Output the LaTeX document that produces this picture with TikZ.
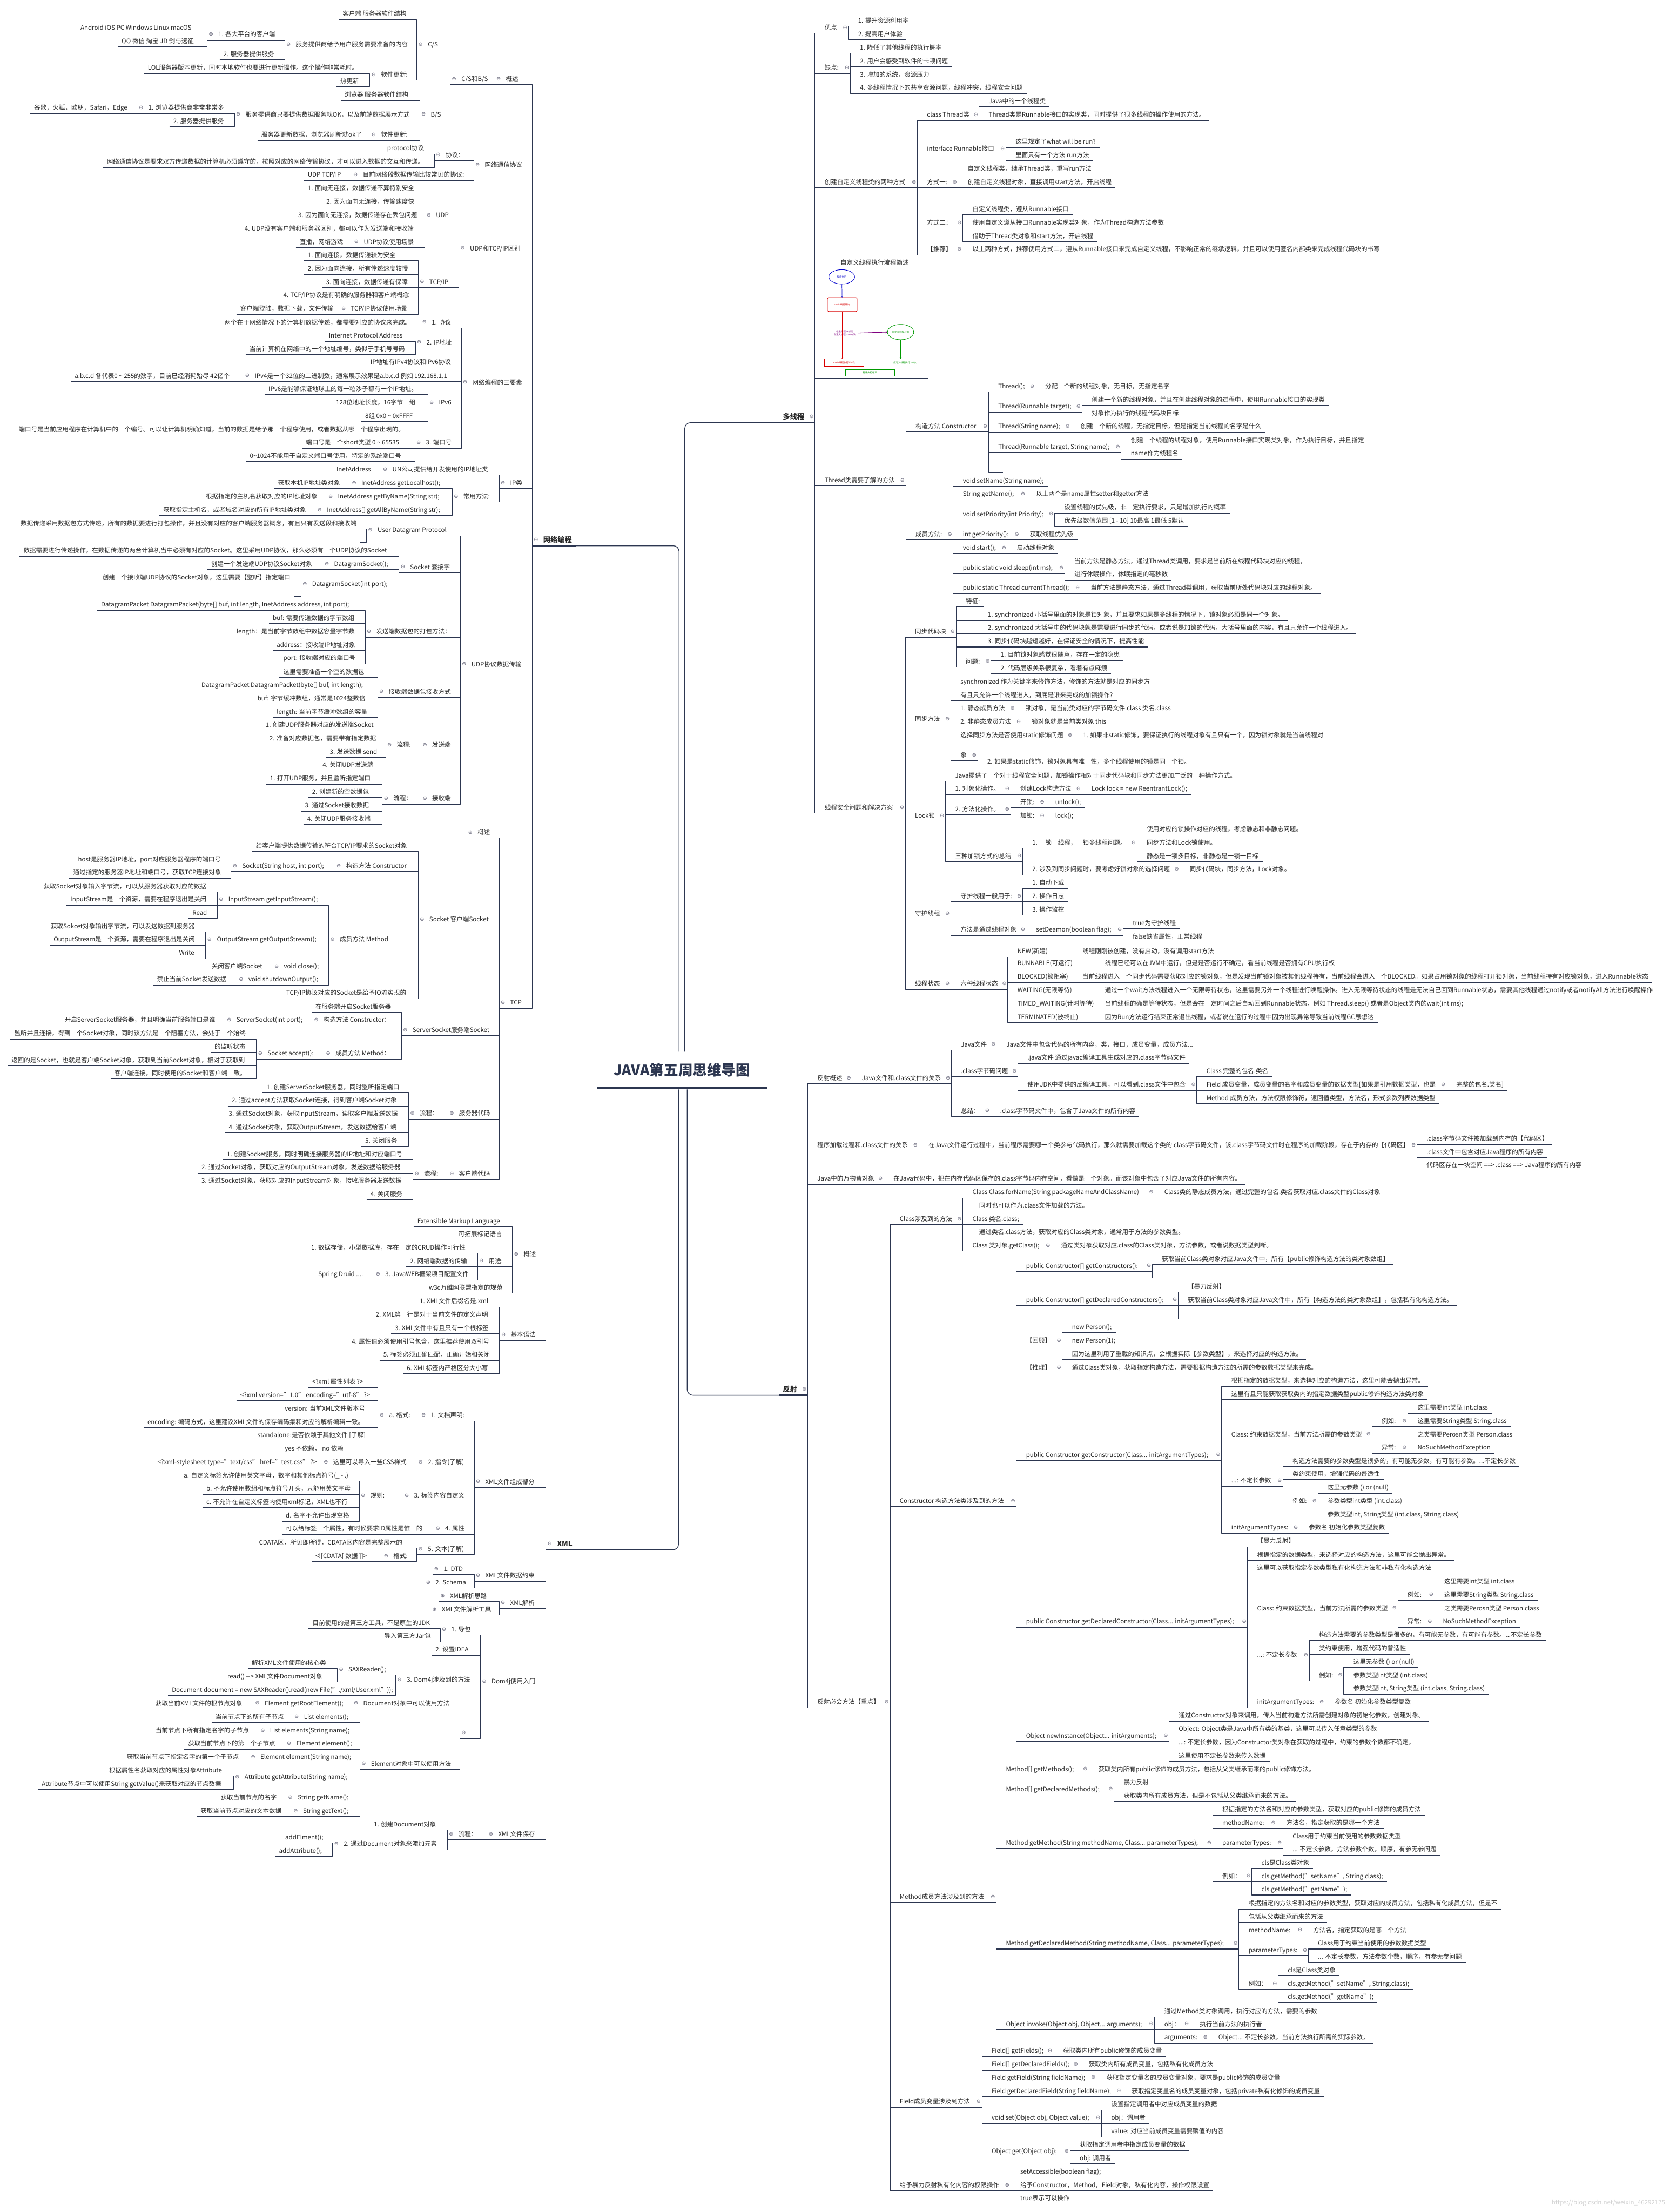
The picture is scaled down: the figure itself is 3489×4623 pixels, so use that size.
\documentclass[tikz,border=0pt]{standalone}
\usepackage{fontspec}
\usetikzlibrary{shapes.geometric}
\setmainfont{Noto Sans CJK SC}
\newfontfamily\dv{DejaVu Sans}
\definecolor{linec}{RGB}{44,54,80}
\definecolor{txtc}{RGB}{40,40,40}
\definecolor{icoc}{RGB}{95,95,115}
\newcommand\icm{{\dv\char"2296}}
\newcommand\icp{{\dv\char"2295}}
\tikzset{
  tx/.style={anchor=south west, font=\fontsize{13}{15}\selectfont, text=txtc, inner xsep=8pt, inner ysep=4pt, text height=10pt, text depth=3pt},
  ico/.style={font={\dv\fontsize{11}{11}\selectfont}, text=icoc, inner sep=0pt},
  ln/.style={draw=linec, line width=1.2pt, line join=round},
  mainf/.style={tx, font=\fontsize{15}{17}\selectfont\bfseries},
  mainln/.style={draw=linec, line width=3pt},
  rootln/.style={draw=linec, line width=1.5pt, rounded corners=12pt},
  fc/.style={font=\fontsize{5}{6}\selectfont, inner sep=0.5pt}
}
% left leaf: name parent xl y text
\newcommand\LL[5]{%
  \coordinate (#1-b) at (#3,#4);
  \node[tx] (#1) at (#1-b) {#5};
  \draw[ln] (#1-b) -| (#2-b);}
% left parent
\newcommand\LP[5]{%
  \coordinate (#1-b) at (#3,#4);
  \node[ico] (#1-i) at ([xshift=8pt,yshift=12pt]#1-b) {\icm};
  \node[tx,xshift=15pt] (#1) at (#1-b) {#5};
  \draw[ln] (#1-b) -| (#2-b);}
% left collapsed
\newcommand\LG[5]{%
  \coordinate (#1-b) at (#3,#4);
  \node[ico] (#1-i) at ([xshift=8pt,yshift=12pt]#1-b) {\icp};
  \node[tx,xshift=15pt] (#1) at (#1-b) {#5};
  \draw[ln] (#1-b) -| (#2-b);}
% left empty stub
\newcommand\LE[4]{%
  \coordinate (#1-b) at (#3,#4);
  \draw[ln] (#1-b) -| (#2-b);}
% right leaf: name parent y text
\newcommand\RL[4]{%
  \node[tx,xshift=12pt] (#1) at (#2-b |- 0,#3) {#4};
  \coordinate (#1-b) at (#1.south east);
  \draw[ln] (#2-b) |- (#1-b);}
% right parent: name parent y xr text
\newcommand\RP[5]{%
  \coordinate (#1-b) at (#4,#3);
  \node[tx,xshift=12pt] (#1) at (#2-b |- 0,#3) {#5};
  \node[ico] (#1-i) at ([xshift=-7pt,yshift=12pt]#1-b) {\icm};
  \draw[ln] (#2-b) |- (#1-b);}
% right empty stub
\newcommand\RE[4]{%
  \path (#2-b |- 0,#3) ++(#4,0) coordinate (#1-b);
  \draw[ln] (#2-b) |- (#1-b);}
\begin{document}
\begin{tikzpicture}[x=1pt,y=-1pt]
\fill[white] (0,0) rectangle (3489,4623);
\useasboundingbox (0,0) rectangle (3489,4623);

% ===== centre =====
\node[font=\fontsize{30}{34}\selectfont\bfseries, text=linec, inner sep=4pt] (root) at (1425,2236) {JAVA第五周思维导图};
\draw[draw=linec, line width=4pt] (1248,2274) -- (1603,2274);
\coordinate (ru1) at (1419,2198);
\coordinate (ru2) at (1431,2198);
\coordinate (rd1) at (1418,2277);
\coordinate (rd2) at (1436,2277);

% ===== 网络编程 =====
\coordinate (net-b) at (1112,1140.6);
\node[ico] at ([xshift=8pt,yshift=13pt]net-b) {\icm};
\node[mainf,xshift=15pt] (net) at (net-b) {网络编程};
\draw[mainln] (net-b) -- (net.south east);
\draw[rootln] (net.south east) -| (ru1);

\LP{gs}{net}{1034}{177}{概述}
\LP{csbs}{gs}{941}{177}{C/S和B/S}
\LP{cs}{csbs}{871}{104.5}{C/S}
\LL{cs1}{cs}{708}{41}{客户端 服务器软件结构}
\LP{cs2}{cs}{595}{104.5}{服务提供商给予用户服务需要准备的内容}
\LP{cs21}{cs2}{433}{83.6}{1. 各大平台的客户端}
\LL{cs211}{cs21}{160}{69.7}{Android iOS PC Windows Linux macOS}
\LL{cs212}{cs21}{246}{97.5}{QQ 微信 淘宝 JD 剑与远征}
\LL{cs22}{cs2}{459}{125}{2. 服务器提供服务}
\LP{cs3}{cs}{773}{168}{软件更新:}
\LL{cs31}{cs3}{301}{153.7}{LOL服务器版本更新，同时本地软件也要进行更新操作。这个操作非常耗时。}
\LL{cs32}{cs3}{703}{181.6}{热更新}
\LP{bs}{csbs}{877}{251}{B/S}
\LL{bs1}{bs}{712}{210}{浏览器 服务器软件结构}
\LP{bs2}{bs}{490}{251}{服务提供商只要提供数据服务就OK，以及前端数据展示方式}
\LP{bs21}{bs2}{287}{237}{1. 浏览器提供商非常非常多}
\LL{bs211}{bs21}{63}{237}{谷歌，火狐，欧朋，Safari，Edge}
\LL{bs22}{bs2}{354}{265}{2. 服务器提供服务}
\LP{bs3}{bs}{773}{293.5}{软件更新:}
\LL{bs31}{bs3}{538}{293.5}{服务器更新数据，浏览器刷新就ok了}

\LP{ncp}{net}{990}{356.7}{网络通信协议}
\LP{xy}{ncp}{908}{335.8}{协议：}
\LL{xy1}{xy}{801}{322}{protocol协议}
\LL{xy2}{xy}{215}{350}{网络通信协议是要求双方传递数据的计算机必须遵守的，按照对应的网络传输协议，才可以进入数据的交互和传递。}
\LP{mq}{ncp}{735}{377}{目前网络段数据传输比较常见的协议:}
\LL{mq1}{mq}{635}{377}{UDP TCP/IP}

\LP{qb}{net}{959}{531}{UDP和TCP/IP区别}
\LP{udp}{qb}{888}{461.7}{UDP}
\LL{udp1}{udp}{635}{405.5}{1. 面向无连接，数据传递不算特别安全}
\LL{udp2}{udp}{674}{433}{2. 因为面向无连接，传输速度快}
\LL{udp3}{udp}{615}{461.7}{3. 因为面向无连接，数据传递存在丢包问题}
\LL{udp4}{udp}{503}{489.5}{4. UDP没有客户端和服务器区别，都可以作为发送端和接收端}
\LP{udp5}{udp}{737}{517.4}{UDP协议使用场景}
\LL{udp51}{udp5}{618}{517.4}{直播，网络游戏}
\LP{tcp}{qb}{874}{601}{TCP/IP}
\LL{tcp1}{tcp}{635}{545}{1. 面向连接，数据传递较为安全}
\LL{tcp2}{tcp}{635}{573.6}{2. 因为面向连接，所有传递速度较慢}
\LL{tcp3}{tcp}{673}{601}{3. 面向连接，数据传递有保障}
\LL{tcp4}{tcp}{584}{629}{4. TCP/IP协议是有明确的服务器和客户端概念}
\LP{tcp5}{tcp}{710}{657}{TCP/IP协议使用场景}
\LL{tcp51}{tcp5}{494}{657}{客户端登陆，数据下载，文件传输}

\LP{sy}{net}{964}{810.8}{网络编程的三要素}
\LP{sy1}{sy}{879}{685.6}{1. 协议}
\LL{sy11}{sy1}{461}{685.6}{两个在于网络情况下的计算机数据传递，都需要对应的协议来完成。}
\LP{sy2}{sy}{868}{727.3}{2. IP地址}
\LL{sy21}{sy2}{679}{713.4}{Internet Protocol Address}
\LL{sy22}{sy2}{513}{741.3}{当前计算机在网络中的一个地址编号，类似于手机号号码}
\LL{sy3}{sy}{766}{769}{IP地址有IPv4协议和IPv6协议}
\LP{sy4}{sy}{509}{797.4}{IPv4是一个32位的二进制数，通常展示效果是a.b.c.d 例如 192.168.1.1}
\LL{sy41}{sy4}{148}{797.4}{a.b.c.d 各代表0 \textasciitilde{} 255的数字，目前已经消耗殆尽 42亿个}
\LP{sy5}{sy}{894}{853}{IPv6}
\LL{sy51}{sy5}{553}{825}{IPv6是能够保证地球上的每一粒沙子都有一个IP地址。}
\LL{sy52}{sy5}{694}{853}{128位地址长度，16字节一组}
\LL{sy53}{sy5}{755}{881}{8组 0x0 \textasciitilde{} 0xFFFF}
\LP{sy6}{sy}{867}{937}{3. 端口号}
\LL{sy61}{sy6}{31}{909}{端口号是当前应用程序在计算机中的一个编号。可以让计算机明确知道，当前的数据是给予那一个程序使用，或者数据从哪一个程序出现的。}
\LL{sy62}{sy6}{631}{937}{端口号是一个short类型 0 \textasciitilde{} 65535}
\LL{sy63}{sy6}{514}{965}{0\textasciitilde{}1024不能用于自定义端口号使用，特定的系统端口号}

\LP{ipc}{net}{1043}{1021}{IP类}
\LP{ipc1}{ipc}{797}{993}{UN公司提供给开发使用的IP地址类}
\LL{ipc11}{ipc1}{695}{993}{InetAddress}
\LP{ipc2}{ipc}{945}{1049.6}{常用方法:}
\LP{ipc21}{ipc2}{732}{1021}{InetAddress getLocalhost();}
\LL{ipc211}{ipc21}{573}{1021}{获取本机IP地址类对象}
\LP{ipc22}{ipc2}{683}{1049.6}{InetAddress getByName(String str);}
\LL{ipc221}{ipc22}{422}{1049.6}{根据指定的主机名获取对应的IP地址对象}
\LP{ipc23}{ipc2}{660}{1077.5}{InetAddress[] getAllByName(String str);}
\LL{ipc231}{ipc23}{333}{1077.5}{获取指定主机名，或者域名对应的所有IP地址类对象}

\LP{udpt}{net}{962}{1400}{UDP协议数据传输}
\LP{ud1}{udpt}{766}{1119.7}{User Datagram Protocol}
\LL{ud11}{ud1}{35}{1105.8}{数据传递采用数据包方式传递，所有的数据要进行打包操作，并且没有对应的客户端服务器概念，有且只有发送段和接收端}
\LE{ud12}{ud1}{752}{1133.5}
\LP{ud2}{udpt}{834}{1196.9}{Socket 套接字}
\LL{ud21}{ud2}{41}{1162.5}{数据需要进行传递操作，在数据传递的两台计算机当中必须有对应的Socket。这里采用UDP协议，那么必须有一个UDP协议的Socket}
\LP{ud22}{ud2}{675}{1190.4}{DatagramSocket();}
\LL{ud221}{ud22}{433}{1190.4}{创建一个发送端UDP协议Socket对象}
\LP{ud23}{ud2}{629}{1232.7}{DatagramSocket(int port);}
\LL{ud231}{ud23}{206}{1218.7}{创建一个接收端UDP协议的Socket对象，这里需要【监听】指定端口}
\LE{ud232}{ud23}{614}{1246.6}
\LP{ud3}{udpt}{763}{1332}{发送端数据包的打包方法：}
\LL{ud31}{ud3}{203}{1275.5}{DatagramPacket DatagramPacket(byte[] buf, int length, InetAddress address, int port);}
\LL{ud32}{ud3}{562}{1303.3}{buf: 需要传递数据的字节数组}
\LL{ud33}{ud3}{486}{1331.7}{length：是当前字节数组中数据容量字节数}
\LL{ud34}{ud3}{570}{1359.5}{address：接收端IP地址对象}
\LL{ud35}{ud3}{584}{1387.4}{port: 接收端对应的端口号}
\LP{ud4}{udpt}{789}{1457.6}{接收端数据包接收方式}
\LL{ud41}{ud4}{584}{1415.8}{这里需要准备一个空的数据包}
\LL{ud42}{ud4}{413}{1443.6}{DatagramPacket DatagramPacket(byte[] buf, int length);}
\LL{ud43}{ud4}{530}{1471.5}{buf: 字节缓冲数组，通常是1024整数倍}
\LL{ud44}{ud4}{570}{1499.3}{length: 当前字节缓冲数组的容量}
\LP{ud5}{udpt}{880}{1568.9}{发送端}
\LP{ud51}{ud5}{806}{1568.9}{流程:}
\LL{ud511}{ud51}{547}{1527.2}{1. 创建UDP服务器对应的发送端Socket}
\LL{ud512}{ud51}{555}{1555}{2. 准备对应数据包，需要带有指定数据}
\LL{ud513}{ud51}{681}{1583.3}{3. 发送数据 send}
\LL{ud514}{ud51}{666}{1611}{4. 关闭UDP发送端}
\LP{ud6}{udpt}{880}{1680.8}{接收端}
\LP{ud61}{ud6}{799}{1680.8}{流程：}
\LL{ud611}{ud61}{556}{1639}{1. 打开UDP服务，并且监听指定端口}
\LL{ud612}{ud61}{644}{1666.9}{2. 创建新的空数据包}
\LL{ud613}{ud61}{629}{1695.2}{3. 通过Socket接收数据}
\LL{ud614}{ud61}{634}{1723}{4. 关闭UDP服务接收端}

\LP{tcpn}{net}{1043}{2107.2}{TCP}
\LG{tg}{tcpn}{975}{1751.4}{概述}
\LP{sk}{tcpn}{874}{1933}{Socket 客户端Socket}
\LL{sk1}{sk}{527}{1779.3}{给客户端提供数据传输的符合TCP/IP要求的Socket对象}
\LP{sk2}{sk}{700}{1821.6}{构造方法 Constructor}
\LP{sk21}{sk2}{483}{1821.6}{Socket(String host, int port);}
\LL{sk211}{sk21}{155}{1807.7}{host是服务器IP地址，port对应服务器程序的端口号}
\LL{sk212}{sk21}{145}{1835.5}{通过指定的服务器IP地址和端口号，获取TCP连接对象}
\LP{sk3}{sk}{687}{1974.8}{成员方法 Method}
\LP{sk31}{sk3}{454}{1891.7}{InputStream getInputStream();}
\LL{sk311}{sk31}{83}{1863.9}{获取Socket对象输入字节流，可以从服务器获取对应的数据}
\LL{sk312}{sk31}{139}{1891.7}{InputStream是一个资源，需要在程序退出是关闭}
\LL{sk313}{sk31}{394}{1919.6}{Read}
\LP{sk32}{sk3}{430}{1974.8}{OutputStream getOutputStream();}
\LL{sk321}{sk32}{98}{1948}{获取Sokcet对象输出字节流，可以发送数据到服务器}
\LL{sk322}{sk32}{104}{1975.3}{OutputStream是一个资源，需要在程序退出是关闭}
\LL{sk323}{sk32}{366}{2003.7}{Write}
\LP{sk33}{sk3}{570}{2031.5}{void close();}
\LL{sk331}{sk33}{434}{2031.5}{关闭客户端Socket}
\LP{sk34}{sk3}{496}{2058.9}{void shutdownOutput();}
\LL{sk341}{sk34}{320}{2058.9}{禁止当前Socket发送数据}
\LL{sk4}{sk}{590}{2087.2}{TCP/IP协议对应的Socket是给予IO流实现的}
\LP{ss}{tcpn}{839}{2164.4}{ServerSocket服务端Socket}
\LL{ss1}{ss}{651}{2115.6}{在服务端开启Socket服务器}
\LP{ss2}{ss}{653}{2143.5}{构造方法 Constructor：}
\LP{ss21}{ss2}{471}{2143.5}{ServerSocket(int port);}
\LL{ss211}{ss21}{127}{2143.5}{开启ServerSocket服务器，并且明确当前服务端口是谁}
\LP{ss3}{ss}{678}{2213.6}{成员方法 Method：}
\LP{ss31}{ss3}{536}{2213.6}{Socket accept();}
\LL{ss311}{ss31}{22}{2171.8}{监听并且连接，得到一个Socket对象，同时该方法是一个阻塞方法，会处于一个始终}
\LL{ss312}{ss31}{440}{2199.7}{的监听状态}
\LL{ss313}{ss31}{16}{2227.5}{返回的是Socket，也就是客户端Socket对象，获取到当前Socket对象，相对于获取到}
\LL{ss314}{ss31}{231}{2254.9}{客户端连接，同时使用的Socket和客户端一致。}
\LP{sv}{tcpn}{936}{2338.9}{服务器代码}
\LP{sv1}{sv}{854}{2338.9}{流程：}
\LL{sv11}{sv1}{549}{2283.8}{1. 创建ServerSocket服务器，同时监听指定端口}
\LL{sv12}{sv1}{476}{2311.6}{2. 通过accept方法获取Socket连接，得到客户端Socket对象}
\LL{sv13}{sv1}{470}{2339.8}{3. 通过Socket对象，获取InputStream，读取客户端发送数据}
\LL{sv14}{sv1}{470}{2367.7}{4. 通过Socket对象，获取OutputStream，发送数据给客户端}
\LL{sv15}{sv1}{755}{2395.6}{5. 关闭服务}
\LP{cl}{tcpn}{936}{2465.2}{客户端代码}
\LP{cl1}{cl}{863}{2465.2}{流程:}
\LL{cl11}{cl1}{466}{2423.9}{1. 创建Socket服务，同时明确连接服务器的IP地址和对应端口号}
\LL{cl12}{cl1}{413}{2451.8}{2. 通过Socket对象，获取对应的OutputStream对象，发送数据给服务器}
\LL{cl13}{cl1}{413}{2479.6}{3. 通过Socket对象，获取对应的InputStream对象，接收服务器发送数据}
\LL{cl14}{cl1}{766}{2507.5}{4. 关闭服务}

% ===== XML =====
\coordinate (xml-b) at (1141,3239);
\node[ico] at ([xshift=8pt,yshift=13pt]xml-b) {\icm};
\node[mainf,xshift=15pt] (xml) at (xml-b) {XML};
\draw[mainln] (xml-b) -- (xml.south east);
\draw[rootln] (xml.south east) -| (rd1);

\LP{xg}{xml}{1071}{2633.4}{概述}
\LL{xg1}{xg}{864}{2563.7}{Extensible Markup Language}
\LL{xg2}{xg}{950}{2591.6}{可拓展标记语言}
\LP{xg3}{xg}{998}{2647.3}{用途:}
\LL{xg31}{xg3}{642}{2619.4}{1. 数据存储，小型数据库，存在一定的CRUD操作可行性}
\LL{xg32}{xg3}{849}{2647.3}{2. 网络端数据的传输}
\LP{xg33}{xg3}{782}{2675.2}{3. JavaWEB框架项目配置文件}
\LL{xg331}{xg33}{657}{2675.2}{Spring Druid ....}
\LL{xg4}{xg}{888}{2703}{w3c万维网联盟指定的规范}
\LP{xb}{xml}{1044}{2801.5}{基本语法}
\LL{xb1}{xb}{869}{2731.4}{1. XML文件后缀名是.xml}
\LL{xb2}{xb}{777}{2759.2}{2. XML第一行是对于当前文件的定义声明}
\LL{xb3}{xb}{817}{2787.6}{3. XML文件中有且只有一个根标签}
\LL{xb4}{xb}{727}{2815.5}{4. 属性值必须使用引号包含，这里推荐使用双引号}
\LL{xb5}{xb}{793}{2843.3}{5. 标签必须正确匹配，正确开始和关闭}
\LL{xb6}{xb}{842}{2871.2}{6. XML标签内严格区分大小写}
\LP{xz}{xml}{991}{3108.9}{XML文件组成部分}
\LP{xz1}{xz}{877}{2969.7}{1. 文档声明:}
\LP{xz11}{xz1}{790}{2969.7}{a. 格式:}
\LL{xz111}{xz11}{644}{2899.5}{<?xml 属性列表 ?>}
\LL{xz112}{xz11}{494}{2927.4}{<?xml version="1.0" encoding="utf-8" ?>}
\LL{xz113}{xz11}{587}{2955.3}{version: 当前XML文件版本号}
\LL{xz114}{xz11}{300}{2983.6}{encoding: 编码方式，这里建议XML文件的保存编码集和对应的解析编辑一致。}
\LL{xz115}{xz11}{530}{3011.5}{standalone:是否依赖于其他文件 [了解]}
\LL{xz116}{xz11}{587}{3039.3}{yes 不依赖， no 依赖}
\LP{xz2}{xz}{871}{3067.7}{2. 指令(了解)}
\LP{xz21}{xz2}{673}{3067.7}{这里可以导入一些CSS样式}
\LL{xz211}{xz21}{321}{3067.7}{<?xml-stylesheet type="text/css" href="test.css" ?>}
\LP{xz3}{xz}{842}{3137.2}{3. 标签内容自定义}
\LP{xz31}{xz3}{751}{3137.2}{规则:}
\LL{xz311}{xz31}{376}{3095.4}{a. 自定义标签允许使用英文字母，数字和其他标点符号(\_ - .)}
\LL{xz312}{xz31}{423}{3123.3}{b. 不允许使用数组和标点符号开头，只能用英文字母}
\LL{xz313}{xz31}{423}{3151.1}{c. 不允许在自定义标签内使用xml标记，XML也不行}
\LL{xz314}{xz31}{589}{3179.5}{d. 名字不允许出现空格}
\LP{xz4}{xz}{907}{3206.9}{4. 属性}
\LL{xz41}{xz4}{589}{3206.9}{可以给标签一个属性，有时候要求ID属性是惟一的}
\LP{xz5}{xz}{871}{3249.2}{5. 文本(了解)}
\LL{xz51}{xz5}{533}{3235.7}{CDATA区，所见即所得，CDATA区内容是完整展示的}
\LP{xz52}{xz5}{799}{3263.6}{格式:}
\LL{xz521}{xz52}{651}{3263.6}{<![CDATA[ 数据 ]]>}
\LP{xc}{xml}{991}{3304.9}{XML文件数据约束}
\LG{xc1}{xc}{904}{3290.9}{1. DTD}
\LG{xc2}{xc}{887}{3319.3}{2. Schema}
\LP{xp}{xml}{1043}{3361.6}{XML解析}
\LG{xp1}{xp}{917}{3347.2}{XML解析思路}
\LG{xp2}{xp}{900}{3375.5}{XML文件解析工具}
\LP{dj}{xml}{1004}{3525.8}{Dom4j使用入门}
\LP{dj1}{dj}{920}{3417.3}{1. 导包}
\LL{dj11}{dj1}{645}{3403.4}{目前使用的是第三方工具，不是原生的JDK}
\LL{dj12}{dj1}{795}{3431.2}{导入第三方Jar包}
\LL{dj2}{dj}{902}{3459.6}{2. 设置IDEA}
\LP{dj3}{dj}{827}{3522.3}{3. Dom4j涉及到的方法}
\LP{dj31}{dj3}{705}{3500.9}{SAXReader();}
\LL{dj311}{dj31}{518}{3487}{解析XML文件使用的核心类}
\LL{dj312}{dj31}{467}{3515.3}{read() -{}-> XML文件Document对象}
\LL{dj32}{dj3}{351}{3543.7}{Document document = new SAXReader().read(new File("./xml/User.xml"));}
\LP{dj4}{dj}{961}{3633.7}{}
\LP{dj41}{dj4}{736}{3571.5}{Document对象中可以使用方法}
\LP{dj411}{dj41}{530}{3571.5}{Element getRootElement();}
\LL{dj4111}{dj411}{317}{3571.5}{获取当前XML文件的根节点对象}
\LP{dj42}{dj4}{752}{3697.9}{Element对象中可以使用方法}
\LP{e1}{dj42}{612}{3599.9}{List elements();}
\LL{e11}{e1}{442}{3599.9}{当前节点下的所有子节点}
\LP{e2}{dj42}{541}{3628.2}{List elements(String name);}
\LL{e21}{e2}{317}{3628.2}{当前节点下所有指定名字的子节点}
\LP{e3}{dj42}{596}{3656.1}{Element element();}
\LL{e31}{e3}{385}{3656.1}{获取当前节点下的第一个子节点}
\LP{e4}{dj42}{521}{3684}{Element element(String name);}
\LL{e41}{e4}{257}{3684}{获取当前节点下指定名字的第一个子节点}
\LP{e5}{dj42}{488}{3725.8}{Attribute getAttribute(String name);}
\LL{e51}{e5}{220}{3711.8}{根据属性名获取对应的属性对象Attribute}
\LL{e52}{e5}{79}{3740.2}{Attribute节点中可以使用String getValue()来获取对应的节点数据}
\LP{e6}{dj42}{599}{3768.5}{String getName();}
\LL{e61}{e6}{453}{3768.5}{获取当前节点的名字}
\LP{e7}{dj42}{610}{3796.4}{String getText();}
\LL{e71}{e7}{411}{3796.4}{获取当前节点对应的文本数据}
\LP{xs}{xml}{1018}{3845.2}{XML文件保存}
\LP{xs1}{xs}{935}{3845.2}{流程：}
\LL{xs11}{xs1}{773}{3824.3}{1. 创建Document对象}
\LP{xs12}{xs1}{695}{3865.8}{2. 通过Document对象来添加元素}
\LL{xs121}{xs12}{588}{3852}{addElment();}
\LL{xs122}{xs12}{575}{3879.6}{addAttribute();}

% ===== 多线程 =====
\coordinate (mt-b) at (1703,883.4);
\node[ico] at ([xshift=-7pt,yshift=13pt]mt-b) {\icm};
\node[mainf,anchor=south east,xshift=-14pt] (mt) at (mt-b) {多线程};
\draw[mainln] (mt.south west) -- (mt-b);
\draw[rootln] (mt.south west) -| (ru2);

\RP{yd}{mt}{69.7}{1773}{优点}
\RL{yd1}{yd}{55.2}{1. 提升资源利用率}
\RL{yd2}{yd}{83.1}{2. 提高用户体验}
\RP{qd}{mt}{153.7}{1777}{缺点:}
\RL{qd1}{qd}{111.4}{1. 降低了其他线程的执行概率}
\RL{qd2}{qd}{139.3}{2. 用户会感受到软件的卡顿问题}
\RL{qd3}{qd}{167.7}{3. 增加的系统，资源压力}
\RL{qd4}{qd}{195.5}{4. 多线程情况下的共享资源问题，线程冲突，线程安全问题}
\RP{cj}{mt}{392.5}{1917}{创建自定义线程类的两种方式}
\RP{cj1}{cj}{251.7}{2046}{class Thread类}
\RL{cj11}{cj1}{223.4}{Java中的一个线程类}
\RL{cj12}{cj1}{251.7}{Thread类是Runnable接口的实现类，同时提供了很多线程的操作使用的方法。}
\RE{cj13}{cj1}{280.1}{32}
\RP{cj2}{cj}{322.4}{2102}{interface Runnable接口}
\RL{cj21}{cj2}{308.5}{这里规定了what will be run?}
\RL{cj22}{cj2}{336.3}{里面只有一个方法 run方法}
\RP{cj3}{cj}{392.5}{2002}{方式一:}
\RL{cj31}{cj3}{364.2}{自定义线程类，继承Thread类，重写run方法}
\RL{cj32}{cj3}{392.5}{创建自定义线程对象，直接调用start方法，开启线程}
\RE{cj33}{cj3}{420.9}{31}
\RP{cj4}{cj}{477.1}{2012}{方式二：}
\RL{cj41}{cj4}{448.7}{自定义线程类，遵从Runnable接口}
\RL{cj42}{cj4}{477.1}{使用自定义遵从接口Runnable实现类对象，作为Thread构造方法参数}
\RL{cj43}{cj4}{505}{借助于Thread类对象和start方法，开启线程}
\RP{cj5}{cj}{532.8}{2012}{【推荐】}
\RL{cj51}{cj5}{532.8}{以上两种方式，推荐使用方式二，遵从Runnable接口来完成自定义线程，不影响正常的继承逻辑，并且可以使用匿名内部类来完成线程代码块的书写}

% flow sketch
\coordinate (lc-b) at (1940,791);
\draw[ln] (mt-b) |- (lc-b);
\node[tx,anchor=west,inner ysep=0pt] (lc) at (1748,550) {自定义线程执行流程简述};
\node[draw=blue!80!black, text=blue!80!black, line width=1pt, ellipse, minimum width=54pt, minimum height=30pt, fc] (f-a) at (1759,578.6) {程序执行};
\node[draw=red!85!black, text=red!85!black, line width=1pt, rounded corners=2pt, minimum width=62pt, minimum height=29pt, fc] (f-b) at (1760,636.5) {main线程开始};
\node[draw=green!60!black, text=green!60!black, line width=1pt, ellipse, minimum width=55pt, minimum height=32pt, fc] (f-c) at (1882,694) {自定义线程开始};
\node[draw=red!85!black, text=red!85!black, line width=1pt, minimum width=83pt, minimum height=16pt, fc] (f-d) at (1764,758) {main线程执行100次};
\node[draw=green!60!black, text=green!60!black, line width=1pt, minimum width=78pt, minimum height=17pt, fc] (f-e) at (1891,758.5) {自定义线程执行100次};
\node[draw=green!60!black, text=green!60!black, line width=1pt, minimum width=102pt, minimum height=14pt, fc] (f-f) at (1818,779) {程序执行结束};
\node[fc, text=violet, align=center] (f-g) at (1765,696) {在主线程中创建\\自定义线程start方法};
\draw[blue!80!black, line width=0.8pt, ->] (f-a) -- (f-b);
\draw[red!85!black, line width=0.8pt, ->] (f-b) -- (f-b |- f-d.north);
\draw[green!60!black, line width=0.8pt, ->] (f-c) -- (f-c |- f-e.north);
\draw[violet, line width=1.2pt, ->] (f-g.east) ++(4,0) -- (f-c.west);

\RP{th}{mt}{1015.3}{1893}{Thread类需要了解的方法}
\RP{th1}{th}{902.8}{2066}{构造方法 Constructor}
\RP{th11}{th1}{819.3}{2164}{Thread();}
\RL{th111}{th11}{819.3}{分配一个新的线程对象，无目标，无指定名字}
\RP{th12}{th1}{861.5}{2261}{Thread(Runnable target);}
\RL{th121}{th12}{847.6}{创建一个新的线程对象，并且在创建线程对象的过程中，使用Runnable接口的实现类}
\RL{th122}{th12}{875.5}{对象作为执行的线程代码块目标}
\RP{th13}{th1}{903.3}{2238}{Thread(String name);}
\RL{th131}{th13}{903.3}{创建一个新的线程，无指定目标，但是指定当前线程的名字是什么}
\RP{th14}{th1}{945.6}{2343}{Thread(Runnable target, String name);}
\RL{th141}{th14}{931.7}{创建一个线程的线程对象，使用Runnable接口实现类对象，作为执行目标，并且指定}
\RL{th142}{th14}{959.5}{name作为线程名}
\RE{th15}{th1}{987.4}{30}
\RP{th2}{th}{1128.2}{1992}{成员方法:}
\RL{th21}{th2}{1016.3}{void setName(String name);}
\RP{th22}{th2}{1044.1}{2145}{String getName();}
\RL{th221}{th22}{1044.1}{以上两个是name属性setter和getter方法}
\RP{th23}{th2}{1086.4}{2204}{void setPriority(int Priority);}
\RL{th231}{th23}{1072.5}{设置线程的优先级，非一定执行要求，只是增加执行的概率}
\RL{th232}{th23}{1100.3}{优先级数值范围 [1 - 10] 10最高 1最低 5默认}
\RP{th24}{th2}{1128.2}{2132}{int getPriority();}
\RL{th241}{th24}{1128.2}{获取线程优先级}
\RP{th25}{th2}{1156.6}{2105}{void start();}
\RL{th251}{th25}{1156.6}{启动线程对象}
\RP{th26}{th2}{1198.3}{2225}{public static void sleep(int ms);}
\RL{th261}{th26}{1184.4}{当前方法是静态方法，通过Thread类调用，要求是当前所在线程代码块对应的线程，}
\RL{th262}{th26}{1212.3}{进行休眠操作，休眠指定的毫秒数}
\RP{th27}{th2}{1240.1}{2259}{public static Thread currentThread();}
\RL{th271}{th27}{1240.1}{当前方法是静态方法，通过Thread类调用，获取当前所处代码块对应的线程对象。}

\RP{aq}{mt}{1699.7}{1892}{线程安全问题和解决方案}
\RP{aq1}{aq}{1332.2}{1998}{同步代码块}
\RL{aq11}{aq1}{1268.5}{特征:}
\RL{aq12}{aq1}{1296.4}{\hspace*{46pt}1. synchronized 小括号里面的对象是锁对象，并且要求如果是多线程的情况下，锁对象必须是同一个对象。}
\RL{aq13}{aq1}{1324.2}{\hspace*{46pt}2. synchronized 大括号中的代码块就是需要进行同步的代码，或者说是加锁的代码，大括号里面的内容，有且只允许一个线程进入。}
\RL{aq14}{aq1}{1352.1}{\hspace*{46pt}3. 同步代码块越短越好，在保证安全的情况下，提高性能}
\RP{aq15}{aq1}{1394.4}{2071}{问题:}
\RL{aq151}{aq15}{1380.4}{1. 目前锁对象感觉很随意，存在一定的隐患}
\RL{aq152}{aq15}{1408.3}{2. 代码层级关系很复杂，看着有点麻烦}
\RP{aq2}{aq}{1514.8}{1987}{同步方法}
\RL{aq21}{aq2}{1436.7}{synchronized 作为关键字来修饰方法，修饰的方法就是对应的同步方}
\RL{aq22}{aq2}{1464.5}{有且只允许一个线程进入，到底是谁来完成的加锁操作?}
\RP{aq23}{aq2}{1492.4}{2123}{1. 静态成员方法}
\RL{aq231}{aq23}{1492.4}{锁对象，是当前类对应的字节码文件.class 类名.class}
\RP{aq24}{aq2}{1520.2}{2136}{2. 非静态成员方法}
\RL{aq241}{aq24}{1520.2}{锁对象就是当前类对象 this}
\RP{aq25}{aq2}{1548.6}{2243}{选择同步方法是否使用static修饰问题}
\RL{aq251}{aq25}{1548.6}{1. 如果非static修饰，要保证执行的线程对象有且只有一个，因为锁对象就是当前线程对}
\RP{aq26}{aq2}{1589.8}{2043}{象}
\RE{aq261}{aq26}{1576}{20}
\RL{aq262}{aq26}{1603.7}{2. 如果是static修饰，锁对象具有唯一性，多个线程使用的锁是同一个锁。}
\RP{aq3}{aq}{1716.6}{1976}{Lock锁}
\RL{aq31}{aq3}{1632.5}{Java提供了一个对于线程安全问题，加锁操作相对于同步代码块和同步方法更加广泛的一种操作方式。}
\RP{aq32}{aq3}{1660.4}{2112}{1. 对象化操作。}
\RP{aq321}{aq32}{1660.4}{2261}{创建Lock构造方法}
\RL{aq3211}{aq321}{1660.4}{Lock lock = new ReentrantLock();}
\RP{aq33}{aq3}{1702.7}{2112}{2. 方法化操作。}
\RP{aq331}{aq33}{1688.3}{2185}{开锁:}
\RL{aq3311}{aq331}{1688.3}{unlock();}
\RP{aq332}{aq33}{1716.6}{2185}{加锁:}
\RL{aq3321}{aq332}{1716.6}{lock();}
\RP{aq34}{aq3}{1800.7}{2137}{三种加锁方式的总结}
\RP{aq341}{aq34}{1772.8}{2376}{1. 一锁一线程，一锁多线程问题。}
\RL{aq3411}{aq341}{1745}{使用对应的锁操作对应的线程，考虑静态和非静态问题。}
\RL{aq3412}{aq341}{1772.8}{同步方法和Lock锁使用。}
\RL{aq3413}{aq341}{1800.7}{静态是一锁多目标，非静态是一锁一目标}
\RP{aq342}{aq34}{1828.6}{2466}{2. 涉及到同步问题时，要考虑好锁对象的选择问题}
\RL{aq3421}{aq342}{1828.6}{同步代码块，同步方法，Lock对象。}
\RP{aq4}{aq}{1920.6}{1987}{守护线程}
\RP{aq41}{aq4}{1884.8}{2137}{守护线程一般用于:}
\RL{aq411}{aq41}{1856.9}{1. 自动下载}
\RL{aq412}{aq41}{1884.8}{2. 操作日志}
\RL{aq413}{aq41}{1912.6}{3. 操作监控}
\RP{aq42}{aq4}{1954.9}{2145}{方法是通过线程对象}
\RP{aq421}{aq42}{1954.9}{2347}{setDeamon(boolean flag);}
\RL{aq4211}{aq421}{1941}{true为守护线程}
\RL{aq4212}{aq421}{1968.8}{false缺省属性，正常线程}
\RP{aq5}{aq}{2067.8}{1987}{线程状态}
\RP{aq51}{aq5}{2067.8}{2106}{六种线程状态}
\RL{aq511}{aq51}{2000.2}{\makebox[136pt][l]{NEW(新建)}线程刚刚被创建，没有启动，没有调用start方法}
\RL{aq512}{aq51}{2025.1}{\makebox[183pt][l]{RUNNABLE(可运行)}线程已经可以在JVM中运行，但是是否运行不确定，看当前线程是否拥有CPU执行权}
\RL{aq513}{aq51}{2053}{\makebox[136pt][l]{BLOCKED(锁阻塞)}当前线程进入一个同步代码需要获取对应的锁对象，但是发现当前锁对象被其他线程持有，当前线程会进入一个BLOCKED。如果占用锁对象的线程打开锁对象，当前线程持有对应锁对象，进入Runnable状态}
\RL{aq514}{aq51}{2081.3}{\makebox[183pt][l]{WAITING(无限等待)}通过一个wait方法线程进入一个无限等待状态，这里需要另外一个线程进行唤醒操作。进入无限等待状态的线程是无法自己回到Runnable状态，需要其他线程通过notify或者notifyAll方法进行唤醒操作}
\RL{aq515}{aq51}{2109.1}{\makebox[183pt][l]{TIMED\_WAITING(计时等待)}当前线程的确是等待状态，但是会在一定时间之后自动回到Runnable状态，例如 Thread.sleep() 或者是Object类内的wait(int ms);}
\RL{aq516}{aq51}{2137}{\makebox[183pt][l]{TERMINATED(被终止)}因为Run方法运行结束正常退出线程，或者说在运行的过程中因为出现异常导致当前线程GC思想达}

% ===== 反射 =====
\coordinate (fsh-b) at (1688,2916);
\node[ico] at ([xshift=-7pt,yshift=13pt]fsh-b) {\icm};
\node[mainf,anchor=south east,xshift=-14pt] (fsh) at (fsh-b) {反射};
\draw[mainln] (fsh.south west) -- (fsh-b);
\draw[rootln] (fsh.south west) -| (rd2);

\RP{f1}{fsh}{2264.9}{1781}{反射概述}
\RP{f11}{f1}{2264.9}{1988}{Java文件和.class文件的关系}
\RP{f111}{f11}{2194.7}{2083}{Java文件}
\RL{f1111}{f111}{2194.7}{Java文件中包含代码的所有内容，类，接口，成员变量，成员方法...}
\RP{f112}{f11}{2250.4}{2127}{.class字节码问题}
\RL{f1121}{f112}{2222.6}{.java文件 通过javac编译工具生成对应的.class字节码文件}
\RP{f1122}{f112}{2278.8}{2501}{使用JDK中提供的反编译工具，可以看到.class文件中包含}
\RL{f11221}{f1122}{2250.4}{Class 完整的包名.类名}
\RP{f11222}{f1122}{2278.8}{3023}{Field 成员变量，成员变量的名字和成员变量的数据类型[如果是引用数据类型，也是}
\RL{f112221}{f11222}{2278.8}{完整的包名.类名]}
\RL{f11223}{f1122}{2306.7}{Method 成员方法，方法权限修饰符，返回值类型，方法名，形式参数列表数据类型}
\RP{f113}{f11}{2333.4}{2070}{总结：}
\RL{f1131}{f113}{2333.4}{.class字节码文件中，包含了Java文件的所有内容}
\RP{f2}{fsh}{2405.5}{1920}{程序加载过程和.class文件的关系}
\RP{f21}{f2}{2405.5}{2961}{在Java文件运行过程中，当前程序需要哪一个类参与代码执行，那么就需要加载这个类的.class字节码文件，该.class字节码文件时在程序的加载阶段，存在于内存的【代码区】}
\RE{f210}{f21}{2363.7}{28}
\RL{f211}{f21}{2391.6}{.class字节码文件被加载到内存的【代码区】}
\RL{f212}{f21}{2419.5}{.class文件中包含对应Java程序的所有内容}
\RL{f213}{f21}{2447.3}{代码区存在一块空间 ==> .class ==> Java程序的所有内容}
\RP{f3}{fsh}{2475.2}{1847}{Java中的万物皆对象}
\RL{f31}{f3}{2475.2}{在Java代码中，把在内存代码区保存的.class字节码内存空间，看做是一个对象。而该对象中包含了对应Java文件的所有内容。}
\RP{f4}{fsh}{3569}{1860}{反射必会方法【重点】}
\RP{f41}{f4}{2559.7}{2012}{Class涉及到的方法}
\RP{f411}{f41}{2503.5}{2413}{Class Class.forName(String packageNameAndClassName)}
\RL{f4111}{f411}{2503.5}{Class类的静态成员方法，通过完整的包名.类名获取对应.class文件的Class对象}
\RL{f412}{f41}{2531.4}{\hspace*{14pt}同时也可以作为.class文件加载的方法。}
\RL{f413}{f41}{2559.2}{Class 类名.class;}
\RL{f414}{f41}{2587.1}{\hspace*{14pt}通过类名.class方法，获取对应的Class类对象，通常用于方法的参数类型。}
\RP{f415}{f41}{2615}{2197}{Class 类对象.getClass();}
\RL{f4151}{f415}{2615}{通过类对象获取对应.class的Class类对象，方法参数，或者说数据类型判断。}
\RP{f42}{f4}{3148.7}{2124}{Constructor 构造方法类涉及到的方法}
\RP{c1}{f42}{2657.3}{2408}{public Constructor[] getConstructors();}
\RL{c11}{c1}{2643.3}{获取当前Class类对象对应Java文件中，所有【public修饰构造方法的类对象数组】}
\RE{c12}{c1}{2671.2}{28}
\RP{c2}{f42}{2728.4}{2462}{public Constructor[] getDeclaredConstructors();}
\RL{c21}{c2}{2700.5}{【暴力反射】}
\RL{c22}{c2}{2728.4}{获取当前Class类对象对应Java文件中，所有【构造方法的类对象数组】，包括私有化构造方法。}
\RE{c23}{c2}{2756.8}{29}
\RP{c3}{f42}{2813.5}{2220}{【回顾】}
\RL{c31}{c3}{2785.1}{new Person();}
\RL{c32}{c3}{2813.5}{new Person(1);}
\RL{c33}{c3}{2841.3}{因为这里利用了重载的知识点，会根据实际【参数类型】，来选择对应的构造方法。}
\RP{c4}{f42}{2869.7}{2220}{【推理】}
\RL{c41}{c4}{2869.7}{通过Class类对象，获取指定构造方法，需要根据构造方法的所需的参数数据类型来完成。}
\RP{c5}{f42}{3052.3}{2553}{public Constructor getConstructor(Class... initArgumentTypes);}
\RL{c51}{c5}{2897.6}{根据指定的数据类型，来选择对应的构造方法，这里可能会抛出异常。}
\RL{c52}{c5}{2925.4}{这里有且只能获取获取类内的指定数据类型public修饰构造方法类对象}
\RP{c53}{c5}{3009.5}{2867}{Class: 约束数据类型，当前方法所需的参数类型}
\RP{c531}{c53}{2981.6}{2942}{例如:}
\RL{c5311}{c531}{2953.8}{这里需要int类型 int.class}
\RL{c5312}{c531}{2981.6}{这里需要String类型 String.class}
\RL{c5313}{c531}{3009.5}{之类需要Perosn类型 Person.class}
\RP{c532}{c53}{3037.3}{2942}{异常:}
\RL{c5321}{c532}{3037.3}{NoSuchMethodException}
\RP{c54}{c5}{3106.4}{2681}{...: 不定长参数}
\RL{c541}{c54}{3065.2}{构造方法需要的参数类型是很多的，有可能无参数，有可能有参数。...不定长参数}
\RL{c542}{c54}{3092.4}{类约束使用，增强代码的普适性}
\RP{c543}{c54}{3149.2}{2754}{例如:}
\RL{c5431}{c543}{3120.8}{这里无参数 () or (null)}
\RL{c5432}{c543}{3149.2}{参数类型int类型 (int.class)}
\RL{c5433}{c543}{3177}{参数类型int, String类型 (int.class, String.class)}
\RP{c55}{c5}{3204.4}{2715}{initArgumentTypes:}
\RL{c551}{c55}{3204.4}{参数名 初始化参数类型复数}
\RP{c6}{f42}{3400.9}{2607}{public Constructor getDeclaredConstructor(Class... initArgumentTypes);}
\RL{c61}{c6}{3232.7}{【暴力反射】}
\RL{c62}{c6}{3261.1}{根据指定的数据类型，来选择对应的构造方法，这里可能会抛出异常。}
\RL{c63}{c6}{3289}{这里可以获取指定参数类型私有化构造方法和非私有化构造方法}
\RP{c64}{c6}{3373}{2921}{Class: 约束数据类型，当前方法所需的参数类型}
\RP{c641}{c64}{3344.7}{2998}{例如:}
\RL{c6411}{c641}{3316.8}{这里需要int类型 int.class}
\RL{c6412}{c641}{3344.7}{这里需要String类型 String.class}
\RL{c6413}{c641}{3373}{之类需要Perosn类型 Person.class}
\RP{c642}{c64}{3400.9}{2995}{异常:}
\RL{c6421}{c642}{3400.9}{NoSuchMethodException}
\RP{c65}{c6}{3471}{2736}{...: 不定长参数}
\RL{c651}{c65}{3428.7}{构造方法需要的参数类型是很多的，有可能无参数，有可能有参数。...不定长参数}
\RL{c652}{c65}{3457.1}{类约束使用，增强代码的普适性}
\RP{c653}{c65}{3512.8}{2808}{例如:}
\RL{c6531}{c653}{3485}{这里无参数 () or (null)}
\RL{c6532}{c653}{3512.8}{参数类型int类型 (int.class)}
\RL{c6533}{c653}{3540.7}{参数类型int, String类型 (int.class, String.class)}
\RP{c66}{c6}{3569}{2769}{initArgumentTypes:}
\RL{c661}{c66}{3569}{参数名 初始化参数类型复数}
\RP{c7}{f42}{3639.2}{2443}{Object newInstance(Object... initArguments);}
\RL{c71}{c7}{3597.4}{通过Constructor对象来调用，传入当前构造方法所需创建对象的初始化参数，创建对象。}
\RL{c72}{c7}{3625.3}{Object: Object类是Java中所有类的基类，这里可以传入任意类型的参数}
\RL{c73}{c7}{3653.1}{...: 不定长参数，因为Constructor类对象在获取的过程中，约束的参数个数都不确定，}
\RL{c74}{c7}{3681}{这里使用不定长参数来传入数据}
\RP{f43}{f4}{3976.2}{2082}{Method成员方法涉及到的方法}
\RP{m1}{f43}{3709.3}{2275}{Method[] getMethods();}
\RL{m11}{m1}{3709.3}{获取类内所有public修饰的成员方法，包括从父类继承而来的public修饰方法。}
\RP{m2}{f43}{3751.1}{2328}{Method[] getDeclaredMethods();}
\RL{m21}{m2}{3736.7}{暴力反射}
\RL{m22}{m2}{3765}{获取类内所有成员方法，但是不包括从父类继承而来的方法。}
\RP{m3}{f43}{3863.3}{2534}{Method getMethod(String methodName, Class... parameterTypes);}
\RL{m31}{m3}{3793.4}{根据指定的方法名和对应的参数类型，获取对应的public修饰的成员方法}
\RP{m32}{m3}{3821.3}{2668}{methodName:}
\RL{m321}{m32}{3821.3}{方法名，指定获取的是哪一个方法}
\RP{m33}{m3}{3863.3}{2681}{parameterTypes:}
\RL{m331}{m33}{3849.2}{Class用于约束当前使用的参数数据类型}
\RL{m332}{m33}{3877.1}{... 不定长参数，方法参数个数，顺序，有参无参问题}
\RP{m34}{m3}{3932.8}{2616}{例如：}
\RL{m341}{m34}{3904.7}{cls是Class类对象}
\RL{m342}{m34}{3932.8}{cls.getMethod("setName", String.class);}
\RL{m343}{m34}{3960.4}{cls.getMethod("getName");}
\RP{m4}{f43}{4073.3}{2589}{Method getDeclaredMethod(String methodName, Class... parameterTypes);}
\RL{m41}{m4}{3990}{根据指定的方法名和对应的参数类型，获取对应的成员方法，包括私有化成员方法，但是不}
\RL{m42}{m4}{4017.6}{包括从父类继承而来的方法}
\RP{m43}{m4}{4045.7}{2724}{methodName:}
\RL{m431}{m43}{4045.7}{方法名，指定获取的是哪一个方法}
\RP{m44}{m4}{4087.6}{2734}{parameterTypes:}
\RL{m441}{m44}{4073.3}{Class用于约束当前使用的参数数据类型}
\RL{m442}{m44}{4101.4}{... 不定长参数，方法参数个数，顺序，有参无参问题}
\RP{m45}{m4}{4157.6}{2671}{例如：}
\RL{m451}{m45}{4129.5}{cls是Class类对象}
\RL{m452}{m45}{4157.6}{cls.getMethod("setName", String.class);}
\RL{m453}{m45}{4185.2}{cls.getMethod("getName");}
\RP{m5}{f43}{4241.9}{2413}{Object invoke(Object obj, Object... arguments);}
\RL{m51}{m5}{4214.8}{通过Method类对象调用，执行对应的方法，需要的参数}
\RP{m52}{m5}{4241.9}{2487}{obj：}
\RL{m521}{m52}{4241.9}{执行当前方法的执行者}
\RP{m53}{m5}{4270}{2526}{arguments:}
\RL{m531}{m53}{4270}{Object... 不定长参数，当前方法执行所需的实际参数，}
\RP{f44}{f4}{4404.1}{2052}{Field成员变量涉及到方法}
\RP{fd1}{f44}{4298.1}{2201}{Field[] getFields();}
\RL{fd11}{fd1}{4298.1}{获取类内所有public修饰的成员变量}
\RP{fd2}{f44}{4326.2}{2255}{Field[] getDeclaredFields();}
\RL{fd21}{fd2}{4326.2}{获取类内所有成员变量，包括私有化成员方法}
\RP{fd3}{f44}{4353.8}{2292}{Field getField(String fieldName);}
\RL{fd31}{fd3}{4353.8}{获取指定变量名的成员变量对象，要求是public修饰的成员变量}
\RP{fd4}{f44}{4381.9}{2345}{Field getDeclaredField(String fieldName);}
\RL{fd41}{fd4}{4381.9}{获取指定变量名的成员变量对象，包括private私有化修饰的成员变量}
\RP{fd5}{f44}{4438.1}{2302}{void set(Object obj, Object value);}
\RL{fd51}{fd5}{4410}{设置指定调用者中对应成员变量的数据}
\RL{fd52}{fd5}{4438.1}{obj：调用者}
\RL{fd53}{fd5}{4466.3}{value: 对应当前成员变量需要赋值的内容}
\RP{fd6}{f44}{4508.2}{2236}{Object get(Object obj);}
\RL{fd61}{fd6}{4494.4}{获取指定调用者中指定成员变量的数据}
\RL{fd62}{fd6}{4522}{obj: 调用者}
\RP{f45}{f4}{4578.7}{2112}{给予暴力反射私有化内容的权限操作}
\RL{f451}{f45}{4550.6}{setAccessible(boolean flag);}
\RL{f452}{f45}{4578.7}{给予Constructor，Method，Field对象，私有化内容，操作权限设置}
\RL{f453}{f45}{4606.3}{true表示可以操作}

\node[anchor=east, text=gray!35, font=\fontsize{13}{15}\selectfont, inner sep=0pt] (wm) at (3480,4604) {https://blog.csdn.net/weixin\_46292175};
\end{tikzpicture}
\end{document}
